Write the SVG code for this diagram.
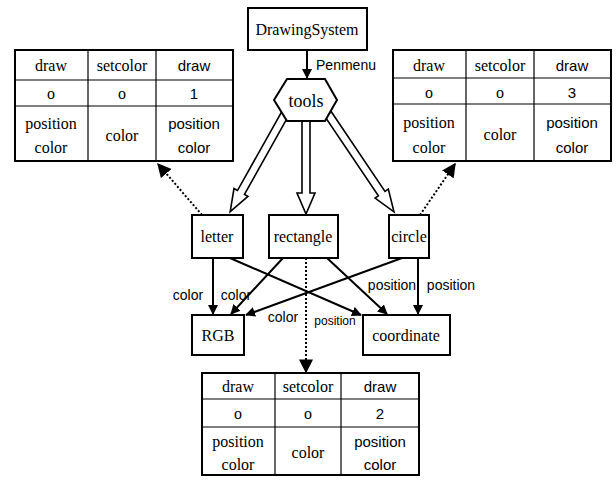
<svg xmlns="http://www.w3.org/2000/svg" width="616" height="484" viewBox="0 0 616 484">
<defs>
<marker id="ah" viewBox="0 0 10 10" refX="9" refY="5" markerWidth="5" markerHeight="5" orient="auto" markerUnits="strokeWidth">
<path d="M0,0 L10,5 L0,10 z" fill="#000"/>
</marker>
<marker id="ahd" viewBox="0 0 10 10" refX="9" refY="5" markerWidth="7" markerHeight="7" orient="auto" markerUnits="strokeWidth">
<path d="M0,0 L10,5 L0,10 z" fill="#000"/>
</marker>
</defs>
<style>
.box{fill:#fff;stroke:#000;stroke-width:2}
.tb{fill:none;stroke:#000;stroke-width:2}
.tl{stroke:#000;stroke-width:1.2}
.s{font-family:'Liberation Serif',serif;font-size:16px;text-anchor:middle;fill:#000}
.n{font-family:'Liberation Sans',sans-serif;font-size:15px;text-anchor:middle;fill:#000}
.el{font-family:'Liberation Sans',sans-serif;font-size:14px;text-anchor:middle;fill:#000}
.edge{stroke:#000;stroke-width:2;fill:none;marker-end:url(#ah)}
.dot{stroke:#000;stroke-width:2;fill:none;stroke-dasharray:2,2;marker-end:url(#ahd)}
.hollow{fill:#fff;stroke:#000;stroke-width:1.6;stroke-linejoin:miter}
</style>
<rect width="616" height="484" fill="#fff"/>

<g id="connectors">
<line class="edge" x1="307" y1="50" x2="307" y2="78"/>
<text class="el" x="346" y="70">Penmenu</text>
<polygon class="hollow" transform="translate(285,114) rotate(119.3)" points="0,-4 90,-4 90,-8 112,0 90,8 90,4 0,4"/>
<polygon class="hollow" points="302,120 302,193 297,193 306,214 315,193 310,193 310,120"/>
<polygon class="hollow" transform="translate(328,114) rotate(56)" points="0,-4 96,-4 96,-8 118,0 96,8 96,4 0,4"/>
<line class="dot" x1="202" y1="215" x2="158" y2="164"/>
<line class="dot" x1="420" y1="215" x2="455" y2="164"/>
<line class="dot" x1="306" y1="258" x2="306" y2="372"/>
<line class="edge" x1="213" y1="258" x2="213" y2="314"/>
<line class="edge" x1="283" y1="258" x2="231" y2="314"/>
<line class="edge" x1="402" y1="258" x2="246" y2="315"/>
<line class="edge" x1="230" y1="258" x2="361" y2="315"/>
<line class="edge" x1="327" y1="258" x2="387" y2="314"/>
<line class="edge" x1="418" y1="258" x2="418" y2="314"/>
<text class="el" x="188" y="300">color</text>
<text class="el" x="236" y="300">color</text>
<text class="el" x="283" y="322">color</text>
<text class="el" x="335" y="325" style="font-size:12px">position</text>
<text class="el" x="392" y="290">position</text>
<text class="el" x="451" y="290">position</text>
</g>

<g id="DrawingSystem" font-family="Liberation Serif, serif">
<rect class="box" x="248" y="8" width="119" height="42"/>
<text class="s" x="307" y="35">DrawingSystem</text>
</g>
<g id="tools" font-family="Liberation Serif, serif">
<polygon class="box" points="274,100 287,79 325,79 337,100 325,121 287,121"/>
<text class="s" x="306" y="107" style="font-size:18px">tools</text>
</g>
<g id="letter">
<rect class="box" x="192" y="215" width="51" height="43"/>
<text class="s" x="217" y="242">letter</text>
</g>
<g id="rectangle">
<rect class="box" x="269" y="215" width="69" height="43"/>
<text class="s" x="303" y="242">rectangle</text>
</g>
<g id="circle">
<rect class="box" x="389" y="215" width="40" height="43"/>
<text class="s" x="409" y="242">circle</text>
</g>
<g id="RGB">
<rect class="box" x="192" y="315" width="52" height="40"/>
<text class="s" x="218" y="341">RGB</text>
</g>
<g id="coordinate">
<rect class="box" x="363" y="315" width="87" height="40"/>
<text class="s" x="406" y="341">coordinate</text>
</g>

<g id="table1">
<rect class="tb" x="15" y="50" width="218" height="111"/>
<line class="tl" x1="88" y1="50" x2="88" y2="161"/>
<line class="tl" x1="156" y1="50" x2="156" y2="161"/>
<line class="tl" x1="15" y1="80" x2="233" y2="80"/>
<line class="tl" x1="15" y1="106" x2="233" y2="106"/>
<text class="s" x="51" y="71">draw</text>
<text class="s" x="122" y="71">setcolor</text>
<text class="n" x="194" y="71">draw</text>
<text class="s" x="51" y="99">o</text>
<text class="s" x="122" y="99">o</text>
<text class="n" x="194" y="99">1</text>
<text class="s" x="51" y="129">position</text>
<text class="s" x="51" y="153">color</text>
<text class="s" x="122" y="141">color</text>
<text class="n" x="194" y="129">position</text>
<text class="n" x="194" y="153">color</text>
</g>

<g id="table3">
<rect class="tb" x="393" y="50" width="218" height="111"/>
<line class="tl" x1="466" y1="50" x2="466" y2="161"/>
<line class="tl" x1="534" y1="50" x2="534" y2="161"/>
<line class="tl" x1="393" y1="78" x2="611" y2="78"/>
<line class="tl" x1="393" y1="104" x2="611" y2="104"/>
<text class="s" x="429" y="71">draw</text>
<text class="s" x="500" y="71">setcolor</text>
<text class="n" x="572" y="71">draw</text>
<text class="s" x="429" y="98">o</text>
<text class="s" x="500" y="98">o</text>
<text class="n" x="572" y="98">3</text>
<text class="s" x="429" y="128">position</text>
<text class="s" x="429" y="153">color</text>
<text class="s" x="500" y="140">color</text>
<text class="n" x="572" y="128">position</text>
<text class="n" x="572" y="153">color</text>
</g>

<g id="table2">
<rect class="tb" x="202" y="373" width="217" height="102"/>
<line class="tl" x1="275" y1="373" x2="275" y2="475"/>
<line class="tl" x1="341" y1="373" x2="341" y2="475"/>
<line class="tl" x1="202" y1="399" x2="419" y2="399"/>
<line class="tl" x1="202" y1="427" x2="419" y2="427"/>
<text class="s" x="238" y="392">draw</text>
<text class="s" x="308" y="392">setcolor</text>
<text class="n" x="380" y="392">draw</text>
<text class="s" x="238" y="419">o</text>
<text class="s" x="308" y="419">o</text>
<text class="n" x="380" y="419">2</text>
<text class="s" x="238" y="447">position</text>
<text class="s" x="238" y="470">color</text>
<text class="s" x="308" y="458">color</text>
<text class="n" x="380" y="447">position</text>
<text class="n" x="380" y="470">color</text>
</g>
</svg>
